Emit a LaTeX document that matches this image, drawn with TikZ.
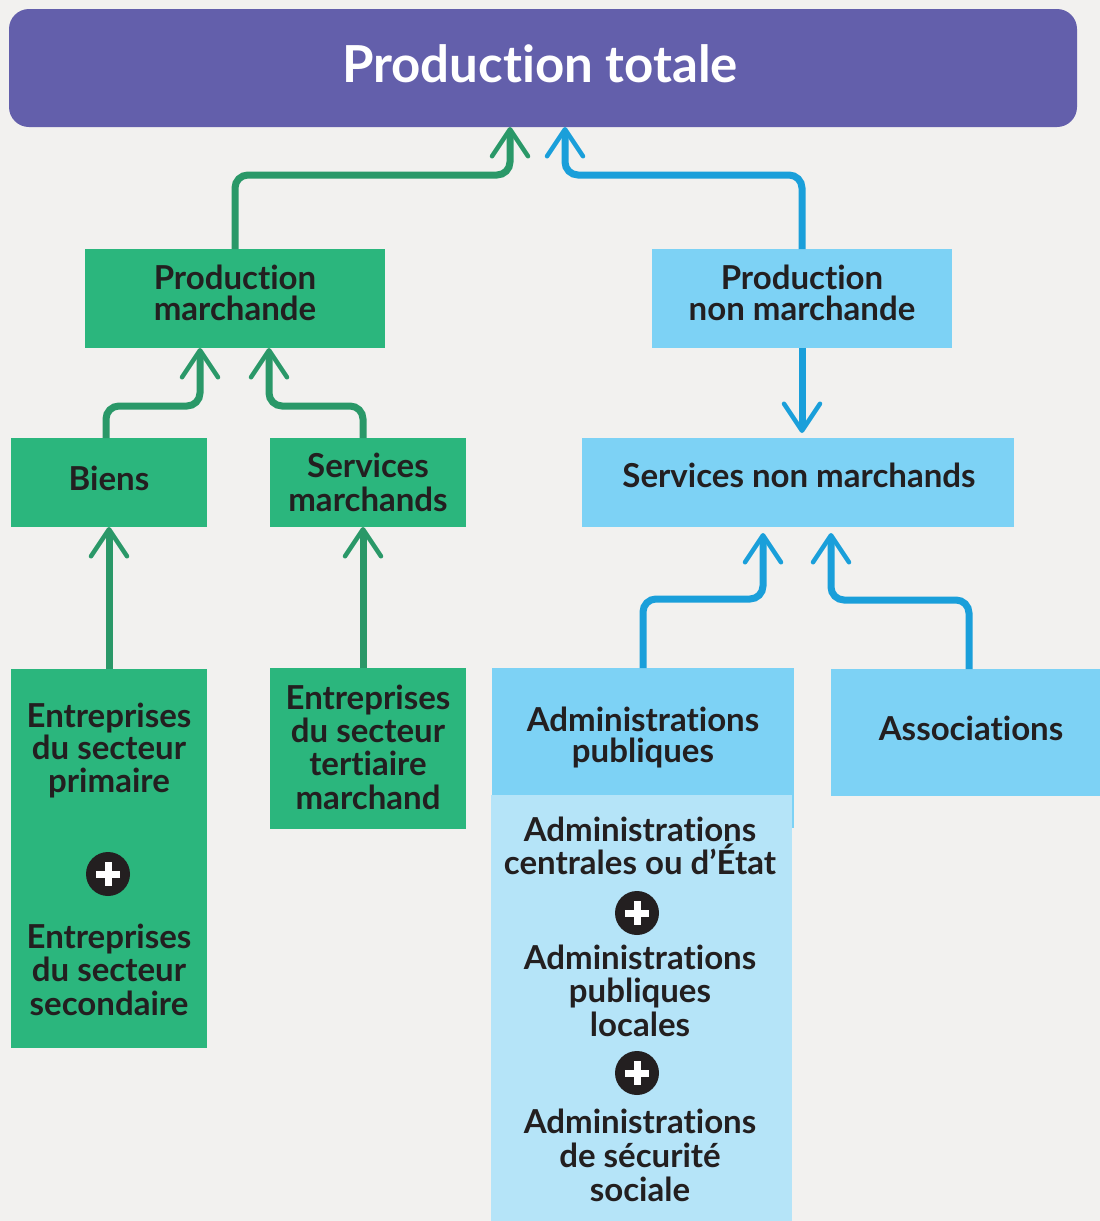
\documentclass[tikz,border=0pt]{standalone}
\usepackage{fontspec}
\setmainfont{Lato}[Ligatures=NoCommon]
\usetikzlibrary{arrows.meta}
\definecolor{bg}{HTML}{F2F1EF}
\definecolor{purp}{HTML}{635FAB}
\definecolor{gbox}{HTML}{2BB67D}
\definecolor{garr}{HTML}{2A9868}
\definecolor{bbox}{HTML}{7DD2F5}
\definecolor{lbox}{HTML}{B5E4F8}
\definecolor{barr}{HTML}{1A9FDA}
\definecolor{ink}{HTML}{231F20}
\begin{document}
\begin{tikzpicture}[x=1pt,y=-1pt,
  box/.style={rectangle, inner sep=0pt, outer sep=0pt},
  gbx/.style={box, fill=gbox},
  bbx/.style={box, fill=bbox},
  txt/.style={inner sep=0pt, align=center, text=ink, anchor=base,
    font=\fontsize{33}{33}\selectfont\bfseries},
  tip/.style={-{Straight Barb[length=27pt,width=36pt,line width=4.5pt,round]}},
  garrow/.style={draw=garr, line width=7pt, rounded corners=13pt, tip},
  barrow/.style={draw=barr, line width=7pt, rounded corners=13pt, tip},
  plusc/.style={circle, fill=ink, minimum size=44pt, inner sep=0pt}
]
\fill[bg] (0,0) rectangle (1100,1221);
\useasboundingbox (0,0) rectangle (1100,1221);

% top
\node[box, fill=purp, rounded corners=20pt, minimum width=1068pt, minimum height=118pt] (tot) at (543,68) {};
\node[txt, text=white, font=\fontsize{51}{51}\selectfont\bfseries] (t-tot) at (540,82) {Production totale};

% boxes
\node[gbx, minimum width=300pt, minimum height=99pt] (pm) at (235,298.5) {};
\node[bbx, minimum width=300pt, minimum height=99pt] (pnm) at (802,298.5) {};
\node[gbx, minimum width=196pt, minimum height=89pt] (biens) at (109,482.5) {};
\node[gbx, minimum width=196pt, minimum height=89pt] (sm) at (368,482.5) {};
\node[bbx, minimum width=432pt, minimum height=89pt] (snm) at (798,482.5) {};
\node[gbx, minimum width=196pt, minimum height=379pt] (ent1) at (109,858) {};
\node[gbx, minimum width=196pt, minimum height=161pt] (ent2) at (368,748.5) {};
\node[bbx, minimum width=302pt, minimum height=160pt] (adm) at (643,748) {};
\node[box, fill=lbox, minimum width=301pt, minimum height=426pt] (list) at (641.5,1008) {};
\node[bbx, minimum width=269pt, minimum height=127pt] (assoc) at (965.5,732.5) {};

% texts (anchor base = baseline of last line)
\node[txt, font=\fontsize{33}{31}\selectfont\bfseries] (t-pm) at (235,320) {Production\\marchande};
\node[txt, font=\fontsize{33}{31}\selectfont\bfseries] (t-pnm) at (802,320) {Production\\non marchande};
\node[txt] (t-biens) at (109,490) {Biens};
\node[txt, font=\fontsize{33}{33.5}\selectfont\bfseries] (t-sm) at (368,511) {Services\\marchands};
\node[txt] (t-snm) at (799,487) {Services non marchands};
\node[txt, font=\fontsize{33}{32.5}\selectfont\bfseries] (t-e1) at (109,792) {Entreprises\\du secteur\\primaire};
\node[plusc] (p1) at (108,874) {};
\node[txt, font=\fontsize{33}{33.5}\selectfont\bfseries] (t-e2) at (109,1015) {Entreprises\\du secteur\\secondaire};
\node[txt, font=\fontsize{33}{33.3}\selectfont\bfseries] (t-e3) at (368,809) {Entreprises\\du secteur\\tertiaire\\marchand};
\node[txt, font=\fontsize{33}{31}\selectfont\bfseries] (t-adm) at (643,762) {Administrations\\publiques};
\node[txt] (t-assoc) at (971,740) {Associations};
\node[txt] (t-a1) at (640,874) {Administrations\\centrales ou d’État};
\node[plusc] (p2) at (637,913) {};
\node[txt, font=\fontsize{33}{33.5}\selectfont\bfseries] (t-a2) at (640,1036) {Administrations\\publiques\\locales};
\node[plusc] (p3) at (637,1073) {};
\node[txt, font=\fontsize{33}{34}\selectfont\bfseries] (t-a3) at (640,1201) {Administrations\\de sécurité\\sociale};

% plus signs
\foreach \p in {p1,p2,p3}{
  \fill[white] ([xshift=-12pt,yshift=-3.5pt]\p.center) rectangle ([xshift=12pt,yshift=3.5pt]\p.center);
  \fill[white] ([xshift=-3.5pt,yshift=-12pt]\p.center) rectangle ([xshift=3.5pt,yshift=12pt]\p.center);
}

% connectors
\draw[garrow] (pm.north) -- ++(0,-74) -| ([xshift=-33pt]tot.south);
\draw[barrow] (pnm.north) -- ++(0,-74) -| ([xshift=22pt]tot.south);
\draw[garrow] ([xshift=-3pt]biens.north) -- ++(0,-32) -| ([xshift=-35pt]pm.south);
\draw[garrow] ([xshift=-5pt]sm.north) -- ++(0,-32) -| ([xshift=34pt]pm.south);
\draw[garrow] (ent1.north) -- (biens.south);
\draw[garrow] ([xshift=-5pt]ent2.north) -- ([xshift=-5pt]sm.south);
\draw[barrow, shorten >=5pt] (pnm.south) -- (pnm.south |- snm.north);
\draw[barrow] (adm.north) -- ++(0,-69) -| ([xshift=-35pt,yshift=-6pt]snm.south);
\draw[barrow] ([xshift=3.5pt]assoc.north) -- ++(0,-69) -| ([xshift=33pt,yshift=-6pt]snm.south);
\end{tikzpicture}
\end{document}
